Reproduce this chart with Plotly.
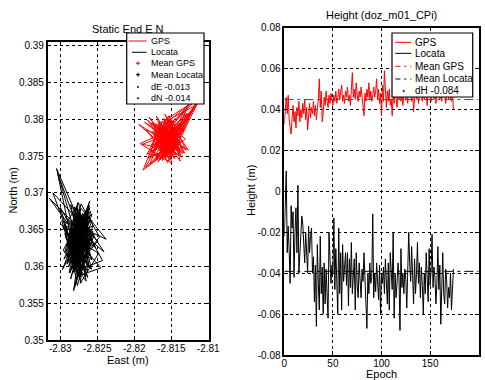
import numpy as np
import plotly.graph_objects as go

# ---------------- data ----------------
gps_e = [
    -2.8162, -2.8148, -2.8171, -2.8139, -2.8156, -2.8184, -2.8151, -2.8167, -2.8142, -2.8175,
    -2.8158, -2.8136, -2.8169, -2.8153, -2.8189, -2.8147, -2.8160, -2.8131, -2.8165, -2.8150,
    -2.8178, -2.8144, -2.8159, -2.8170, -2.8137, -2.8155, -2.8192, -2.8149, -2.8163, -2.8140,
    -2.8173, -2.8152, -2.8134, -2.8166, -2.8157, -2.8181, -2.8145, -2.8161, -2.8128, -2.8154,
    -2.8168, -2.8143, -2.8176, -2.8150, -2.8138, -2.8164, -2.8186, -2.8147, -2.8159, -2.8133,
    -2.8171, -2.8155, -2.8141, -2.8167, -2.8149, -2.8179, -2.8136, -2.8162, -2.8152, -2.8125,
    -2.8158, -2.8174, -2.8144, -2.8165, -2.8139, -2.8156, -2.8183, -2.8148, -2.8170, -2.8142,
    -2.8161, -2.8130, -2.8153, -2.8177, -2.8146, -2.8168, -2.8135, -2.8157, -2.8194, -2.8151,
    -2.8163, -2.8140, -2.8172, -2.8149, -2.8121, -2.8160, -2.8145, -2.8175, -2.8138, -2.8154,
    -2.8166, -2.8132, -2.8158, -2.8180, -2.8147, -2.8162, -2.8137, -2.8169, -2.8152, -2.8115,
    -2.8156, -2.8173, -2.8143, -2.8164, -2.8150, -2.8185, -2.8139, -2.8159, -2.8127, -2.8155,
    -2.8170, -2.8146, -2.8161, -2.8134, -2.8178, -2.8152, -2.8141, -2.8166, -2.8110, -2.8148,
    -2.8163, -2.8137, -2.8174, -2.8155, -2.8129, -2.8160, -2.8145, -2.8182, -2.8150, -2.8136,
    -2.8167, -2.8153, -2.8140, -2.8171, -2.8147, -2.8119, -2.8158, -2.8165, -2.8133, -2.8176,
    -2.8151, -2.8142, -2.8162, -2.8188, -2.8149, -2.8135, -2.8157, -2.8124, -2.8168, -2.8144,
    -2.8160, -2.8131, -2.8173, -2.8152, -2.8113, -2.8146, -2.8164, -2.8139, -2.8156, -2.8179,
    -2.8148, -2.8126, -2.8161, -2.8143, -2.8170, -2.8154, -2.8117, -2.8158, -2.8138, -2.8166,
    -2.8150, -2.8132, -2.8163, -2.8145, -2.8157,
]
gps_n = [
    0.3782, 0.3764, 0.3791, 0.3755, 0.3748, 0.3786, 0.3770, 0.3797, 0.3758, 0.3776,
    0.3761, 0.3749, 0.3793, 0.3780, 0.3766, 0.3757, 0.3801, 0.3773, 0.3745, 0.3788,
    0.3795, 0.3759, 0.3771, 0.3804, 0.3752, 0.3784, 0.3767, 0.3740, 0.3790, 0.3762,
    0.3778, 0.3800, 0.3754, 0.3769, 0.3785, 0.3747, 0.3763, 0.3792, 0.3818, 0.3751,
    0.3772, 0.3788, 0.3760, 0.3795, 0.3743, 0.3781, 0.3796, 0.3764, 0.3757, 0.3810,
    0.3766, 0.3753, 0.3783, 0.3775, 0.3799, 0.3756, 0.3770, 0.3744, 0.3787, 0.3823,
    0.3749, 0.3794, 0.3768, 0.3781, 0.3760, 0.3802, 0.3752, 0.3776, 0.3791, 0.3763,
    0.3787, 0.3758, 0.3805, 0.3765, 0.3774, 0.3742, 0.3797, 0.3769, 0.3793, 0.3755,
    0.3779, 0.3761, 0.3750, 0.3790, 0.3812, 0.3773, 0.3746, 0.3784, 0.3765, 0.3798,
    0.3757, 0.3786, 0.3771, 0.3803, 0.3760, 0.3748, 0.3792, 0.3778, 0.3744, 0.3827,
    0.3790, 0.3763, 0.3753, 0.3781, 0.3796, 0.3735, 0.3769, 0.3807, 0.3758, 0.3775,
    0.3745, 0.3798, 0.3784, 0.3762, 0.3751, 0.3789, 0.3770, 0.3794, 0.3830, 0.3766,
    0.3792, 0.3756, 0.3780, 0.3741, 0.3808, 0.3774, 0.3761, 0.3799, 0.3752, 0.3787,
    0.3770, 0.3801, 0.3759, 0.3785, 0.3764, 0.3817, 0.3748, 0.3779, 0.3795, 0.3756,
    0.3783, 0.3766, 0.3797, 0.3731, 0.3760, 0.3788, 0.3775, 0.3809, 0.3750, 0.3793,
    0.3762, 0.3790, 0.3743, 0.3776, 0.3825, 0.3757, 0.3784, 0.3768, 0.3796, 0.3739,
    0.3774, 0.3806, 0.3752, 0.3787, 0.3765, 0.3799, 0.3819, 0.3760, 0.3781, 0.3770,
    0.3791, 0.3754, 0.3778, 0.3762, 0.3786,
]
loc_e = [
    -2.8278, -2.8265, -2.8289, -2.8271, -2.8283, -2.8260, -2.8294, -2.8274, -2.8268, -2.8286,
    -2.8262, -2.8280, -2.8305, -2.8270, -2.8258, -2.8284, -2.8276, -2.8292, -2.8266, -2.8279,
    -2.8255, -2.8287, -2.8273, -2.8263, -2.8298, -2.8275, -2.8261, -2.8282, -2.8269, -2.8293,
    -2.8259, -2.8277, -2.8285, -2.8238, -2.8272, -2.8290, -2.8264, -2.8281, -2.8267, -2.8315,
    -2.8276, -2.8257, -2.8288, -2.8270, -2.8262, -2.8284, -2.8274, -2.8296, -2.8265, -2.8279,
    -2.8252, -2.8286, -2.8271, -2.8260, -2.8291, -2.8277, -2.8263, -2.8283, -2.8243, -2.8275,
    -2.8289, -2.8266, -2.8280, -2.8268, -2.8300, -2.8273, -2.8256, -2.8285, -2.8270, -2.8262,
    -2.8287, -2.8276, -2.8294, -2.8264, -2.8281, -2.8258, -2.8278, -2.8290, -2.8267, -2.8273,
    -2.8248, -2.8284, -2.8271, -2.8261, -2.8296, -2.8275, -2.8265, -2.8282, -2.8269, -2.8288,
    -2.8257, -2.8279, -2.8273, -2.8303, -2.8263, -2.8285, -2.8270, -2.8259, -2.8291, -2.8276,
    -2.8266, -2.8281, -2.8241, -2.8272, -2.8287, -2.8262, -2.8278, -2.8295, -2.8268, -2.8274,
    -2.8254, -2.8283, -2.8270, -2.8289, -2.8264, -2.8277, -2.8260, -2.8286, -2.8272, -2.8298,
    -2.8265, -2.8280, -2.8250, -2.8275, -2.8290, -2.8268, -2.8284, -2.8262, -2.8278, -2.8271,
    -2.8293, -2.8257, -2.8282, -2.8269, -2.8276, -2.8245, -2.8286, -2.8264, -2.8279, -2.8310,
    -2.8273, -2.8261, -2.8288, -2.8270, -2.8283, -2.8256, -2.8277, -2.8292, -2.8266, -2.8280,
    -2.8263, -2.8274, -2.8286, -2.8253, -2.8271, -2.8297, -2.8268, -2.8282, -2.8260, -2.8276,
    -2.8289, -2.8265, -2.8279, -2.8247, -2.8272, -2.8285, -2.8262, -2.8277, -2.8294, -2.8269,
    -2.8281, -2.8258, -2.8274, -2.8287, -2.8270,
]
loc_n = [
    0.3618, 0.3661, 0.3642, 0.3590, 0.3674, 0.3628, 0.3655, 0.3601, 0.3647, 0.3583,
    0.3669, 0.3612, 0.3733, 0.3651, 0.3596, 0.3637, 0.3678, 0.3620, 0.3586, 0.3663,
    0.3640, 0.3604, 0.3671, 0.3593, 0.3657, 0.3626, 0.3683, 0.3611, 0.3648, 0.3666,
    0.3632, 0.3588, 0.3659, 0.3637, 0.3679, 0.3615, 0.3644, 0.3571, 0.3627, 0.3693,
    0.3653, 0.3609, 0.3629, 0.3672, 0.3638, 0.3597, 0.3664, 0.3622, 0.3580, 0.3650,
    0.3625, 0.3684, 0.3614, 0.3649, 0.3603, 0.3661, 0.3635, 0.3592, 0.3608, 0.3667,
    0.3611, 0.3645, 0.3676, 0.3624, 0.3680, 0.3589, 0.3656, 0.3632, 0.3668, 0.3600,
    0.3647, 0.3687, 0.3619, 0.3660, 0.3594, 0.3641, 0.3673, 0.3606, 0.3634, 0.3577,
    0.3618, 0.3639, 0.3665, 0.3598, 0.3652, 0.3686, 0.3621, 0.3567, 0.3658, 0.3630,
    0.3663, 0.3602, 0.3643, 0.3725, 0.3585, 0.3649, 0.3613, 0.3675, 0.3628, 0.3659,
    0.3606, 0.3681, 0.3620, 0.3646, 0.3591, 0.3662, 0.3631, 0.3610, 0.3670, 0.3584,
    0.3644, 0.3616, 0.3667, 0.3599, 0.3654, 0.3636, 0.3689, 0.3623, 0.3578, 0.3662,
    0.3650, 0.3595, 0.3634, 0.3672, 0.3612, 0.3657, 0.3603, 0.3641, 0.3682, 0.3620,
    0.3639, 0.3671, 0.3607, 0.3653, 0.3587, 0.3598, 0.3645, 0.3677, 0.3615, 0.3700,
    0.3660, 0.3629, 0.3592, 0.3668, 0.3622, 0.3648, 0.3574, 0.3655, 0.3637, 0.3603,
    0.3674, 0.3614, 0.3643, 0.3627, 0.3665, 0.3596, 0.3651, 0.3608, 0.3680, 0.3633,
    0.3621, 0.3658, 0.3600, 0.3640, 0.3685, 0.3617, 0.3666, 0.3590, 0.3645, 0.3626,
    0.3652, 0.3611, 0.3670, 0.3635, 0.3624,
]
gps_h = [
    0.033, 0.041, 0.046, 0.038, 0.047, 0.035, 0.031, 0.028, 0.036, 0.042,
    0.034, 0.039, 0.031, 0.041, 0.037, 0.044, 0.034, 0.040, 0.036, 0.043,
    0.038, 0.045, 0.035, 0.041, 0.030, 0.039, 0.043, 0.036, 0.041, 0.038,
    0.044, 0.037, 0.042, 0.035, 0.040, 0.045, 0.055, 0.041, 0.049, 0.034,
    0.038, 0.046, 0.042, 0.049, 0.044, 0.041, 0.047, 0.043, 0.048, 0.045,
    0.042, 0.047, 0.044, 0.049, 0.043, 0.046, 0.050, 0.045, 0.048, 0.052,
    0.044, 0.047, 0.043, 0.049, 0.046, 0.051, 0.044, 0.047, 0.042, 0.048,
    0.058, 0.046, 0.050, 0.045, 0.053, 0.047, 0.044, 0.049, 0.046, 0.051,
    0.045, 0.042, 0.037, 0.048, 0.044, 0.050, 0.046, 0.053, 0.045, 0.049,
    0.044, 0.047, 0.051, 0.046, 0.049, 0.055, 0.045, 0.050, 0.043, 0.048,
    0.037, 0.052, 0.044, 0.059, 0.046, 0.041, 0.049, 0.044, 0.050, 0.042,
    0.045, 0.037, 0.048, 0.043, 0.050, 0.046, 0.041, 0.049, 0.045, 0.051,
    0.044, 0.048, 0.042, 0.047, 0.050, 0.045, 0.049, 0.043, 0.052, 0.046,
    0.048, 0.044, 0.050, 0.039, 0.047, 0.052, 0.045, 0.049, 0.043, 0.048,
    0.051, 0.046, 0.044, 0.049, 0.045, 0.053, 0.047, 0.042, 0.050, 0.046,
    0.048, 0.044, 0.052, 0.047, 0.045, 0.050, 0.043, 0.049, 0.046, 0.051,
    0.045, 0.048, 0.044, 0.050, 0.046, 0.049, 0.043, 0.047, 0.051, 0.045,
    0.048, 0.046, 0.044, 0.049, 0.040,
]
loc_h = [
    -0.022, -0.004, 0.010, -0.030, -0.017, -0.029, -0.045, -0.007, -0.018, -0.010,
    -0.042, -0.020, -0.008, -0.030, 0.003, -0.040, -0.028, -0.025, -0.012, -0.016,
    -0.030, -0.035, -0.020, -0.033, -0.040, -0.017, -0.030, -0.022, -0.018, -0.040,
    -0.032, -0.054, -0.036, -0.066, -0.026, -0.045, -0.058, -0.022, -0.050, -0.037,
    -0.060, -0.035, -0.055, -0.038, -0.050, -0.062, -0.020, -0.040, -0.045, -0.036,
    -0.040, -0.013, -0.048, -0.028, -0.044, -0.060, -0.018, -0.050, -0.030, -0.058,
    -0.026, -0.044, -0.037, -0.030, -0.046, -0.030, -0.056, -0.033, -0.047, -0.025,
    -0.050, -0.041, -0.033, -0.058, -0.030, -0.046, -0.052, -0.035, -0.045, -0.052,
    -0.038, -0.044, -0.030, -0.048, -0.055, -0.067, -0.040, -0.050, -0.035, -0.045,
    -0.042, -0.011, -0.052, -0.040, -0.049, -0.035, -0.047, -0.053, -0.036, -0.060,
    -0.040, -0.045, -0.037, -0.050, -0.033, -0.042, -0.055, -0.035, -0.058, -0.030,
    -0.044, -0.048, -0.020, -0.062, -0.040, -0.052, -0.045, -0.035, -0.042, -0.068,
    -0.028, -0.047, -0.040, -0.050, -0.038, -0.043, -0.057, -0.036, -0.020, -0.035,
    -0.044, -0.027, -0.048, -0.055, -0.033, -0.050, -0.040, -0.025, -0.045, -0.035,
    -0.052, -0.037, -0.046, -0.060, -0.040, -0.050, -0.030, -0.044, -0.054, -0.028,
    -0.046, -0.039, -0.021, -0.047, -0.037, -0.042, -0.055, -0.045, -0.027, -0.048,
    -0.036, -0.065, -0.041, -0.030, -0.050, -0.055, -0.038, -0.043, -0.057, -0.047,
    -0.052, -0.040, -0.058, -0.045, -0.038,
]

en_xticks = [-2.83, -2.825, -2.82, -2.815, -2.81]
en_xtext = ["-2.83", "-2.825", "-2.82", "-2.815", "-2.81"]
en_yticks = [0.35, 0.355, 0.36, 0.365, 0.37, 0.375, 0.38, 0.385, 0.39]
en_ytext = ["0.35", "0.355", "0.36", "0.365", "0.37", "0.375", "0.38", "0.385", "0.39"]
h_xticks = [0, 50, 100, 150, 200]
h_yticks = [-0.08, -0.06, -0.04, -0.02, 0, 0.02, 0.04, 0.06, 0.08]
h_ytext = ["-0.08", "-0.06", "-0.04", "-0.02", "0", "0.02", "0.04", "0.06", "0.08"]

left_legend = ["GPS", "Locata", "Mean GPS", "Mean Locata", "dE -0.013", "dN -0.014"]
right_legend = ["GPS", "Locata", "Mean GPS", "Mean Locata", "dH -0.084"]

# ---------------- figure ----------------
W, H = 485, 380
FONT = "Liberation Sans, Arial, sans-serif"


def px(x):
    return x / W


def py(y):
    return 1 - y / H


epochs = np.arange(len(gps_h))
mean_gps_h = float(np.mean(gps_h))
mean_loc_h = float(np.mean(loc_h))

fig = go.Figure()
fig.add_trace(go.Scatter(x=gps_e, y=gps_n, mode="lines", line=dict(color="#ff0000", width=1),
                         xaxis="x", yaxis="y", showlegend=False))
fig.add_trace(go.Scatter(x=loc_e, y=loc_n, mode="lines", line=dict(color="black", width=1),
                         xaxis="x", yaxis="y", showlegend=False))
fig.add_trace(go.Scatter(x=[np.mean(gps_e)], y=[np.mean(gps_n)], mode="markers",
                         marker=dict(symbol="cross-thin", size=6, line=dict(color="#ff0000", width=1)),
                         xaxis="x", yaxis="y", showlegend=False))
fig.add_trace(go.Scatter(x=[np.mean(loc_e)], y=[np.mean(loc_n)], mode="markers",
                         marker=dict(symbol="cross-thin", size=6, line=dict(color="black", width=1)),
                         xaxis="x", yaxis="y", showlegend=False))

fig.add_trace(go.Scatter(x=epochs, y=gps_h, mode="lines", line=dict(color="#ff0000", width=1),
                         xaxis="x2", yaxis="y2", showlegend=False))
fig.add_trace(go.Scatter(x=epochs, y=loc_h, mode="lines", line=dict(color="black", width=1),
                         xaxis="x2", yaxis="y2", showlegend=False))
fig.add_trace(go.Scatter(x=[h_xticks[0], h_xticks[-1]], y=[mean_gps_h, mean_gps_h], mode="lines",
                         line=dict(color="#ff0000", width=1, dash="9px,4px,3px,4px"),
                         xaxis="x2", yaxis="y2", showlegend=False))
fig.add_trace(go.Scatter(x=[h_xticks[0], h_xticks[-1]], y=[mean_loc_h, mean_loc_h], mode="lines",
                         line=dict(color="black", width=1, dash="9px,4px,3px,4px"),
                         xaxis="x2", yaxis="y2", showlegend=False))

axis_common = dict(
    showline=True, linecolor="black", linewidth=1.5, mirror="ticks",
    ticks="inside", ticklen=4, tickcolor="black", tickwidth=1,
    showgrid=True, gridcolor="black", gridwidth=1, griddash="3px,3px",
    zeroline=False, automargin=False,
    tickfont=dict(family=FONT, size=10, color="black"),
)

fig.update_layout(
    template="none",
    width=W, height=H,
    margin=dict(l=0, r=0, t=0, b=0, pad=0),
    paper_bgcolor="white", plot_bgcolor="white",
    font=dict(family=FONT, color="black"),
    showlegend=False,
    xaxis=dict(domain=[px(47.7), px(209)], range=[-2.8317, -2.8099],
               tickvals=en_xticks, ticktext=en_xtext, anchor="y", ticklabelstandoff=-2, **axis_common),
    yaxis=dict(domain=[py(340), py(42)], range=[0.35, 0.3905],
               tickvals=en_yticks, ticktext=en_ytext, anchor="x", **axis_common),
    xaxis2=dict(domain=[px(284.3), px(478.7)], range=[0, 200],
                tickvals=h_xticks, ticktext=[str(v) for v in h_xticks], anchor="y2",
                ticklabelstandoff=-2, **axis_common),
    yaxis2=dict(domain=[py(355), py(27.7)], range=[-0.08, 0.08],
                tickvals=h_yticks, ticktext=h_ytext, anchor="x2", **axis_common),
)

annotations = []
shapes = []


def text(x, y, s, size=11, xanchor="center", angle=0):
    annotations.append(dict(x=px(x), y=py(y), xref="paper", yref="paper", text=s, showarrow=False,
                            xanchor=xanchor, yanchor="middle", textangle=angle,
                            font=dict(family=FONT, size=size, color="black")))


# titles and axis labels
text(127.8, 29.5, "Static End E N")
text(381, 15.5, "Height (doz_m01_CPi)")
text(128, 359.5, "East (m)")
text(12.5, 191, "North (m)", angle=-90)
text(381, 373.5, "Epoch")
text(251, 191, "Height (m)", angle=-90)


def seg(x0, y0, x1, y1, color="black", dash="solid", width=1):
    shapes.append(dict(type="line", xref="paper", yref="paper", x0=px(x0), y0=py(y0), x1=px(x1), y1=py(y1),
                       line=dict(color=color, width=width, dash=dash), layer="above"))


def box(x0, y0, x1, y1):
    shapes.append(dict(type="rect", xref="paper", yref="paper", x0=px(x0), y0=py(y0), x1=px(x1), y1=py(y1),
                       line=dict(color="black", width=1.2), fillcolor="white", layer="above"))


def plus(x, y, color):
    seg(x - 2, y, x + 2, y, color)
    seg(x, y - 2, x, y + 2, color)


def dot(x, y):
    shapes.append(dict(type="circle", xref="paper", yref="paper", x0=px(x - 0.8), y0=py(y - 0.8),
                       x1=px(x + 0.8), y1=py(y + 0.8), line=dict(color="black", width=0.5),
                       fillcolor="black", layer="above"))


# left legend
box(126.7, 33, 204, 104)
rows_l = [41, 52.3, 63.3, 74.7, 87, 98.3]
seg(128.5, rows_l[0], 146.7, rows_l[0], "#ff0000")
seg(132, rows_l[1], 146.7, rows_l[1], "black")
plus(138, rows_l[2], "#ff0000")
plus(138, rows_l[3], "black")
dot(138, rows_l[4])
dot(138, rows_l[5])
for r, s in zip(rows_l, left_legend):
    text(148.5, r, s, size=9, xanchor="left")

# right legend
box(392, 33, 472.7, 97)
rows_r = [42.3, 53.3, 66.3, 79, 91]
seg(395.3, rows_r[0], 411.3, rows_r[0], "#ff0000")
seg(395.3, rows_r[1], 411.3, rows_r[1], "black")
seg(395.3, rows_r[2], 411.3, rows_r[2], "#ff0000", dash="5px,4px,2px,4px")
seg(395.3, rows_r[3], 411.3, rows_r[3], "black", dash="5px,4px,2px,4px")
dot(403.7, rows_r[4])
for r, s in zip(rows_r, right_legend):
    text(412.5, r, s, size=10, xanchor="left")

fig.update_layout(annotations=annotations, shapes=shapes)
fig.write_html(
    "out.html",
    config={"displayModeBar": False},
    post_script="document.body.style.margin='0';document.body.style.overflow='hidden';",
)
